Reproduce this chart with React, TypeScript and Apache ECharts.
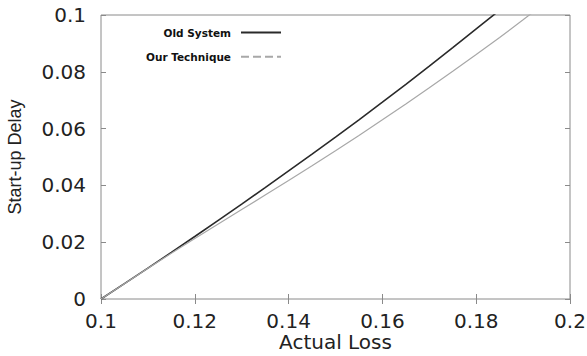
import React, { useEffect, useRef } from "react";
import * as echarts from "echarts";

const xValues = [0.1, 0.105, 0.11, 0.115, 0.12, 0.125, 0.13, 0.135, 0.14, 0.145, 0.15, 0.155, 0.16, 0.165, 0.17, 0.175, 0.18, 0.185, 0.19, 0.195];
const oldSystem = [0, 0.0054, 0.0109, 0.0164, 0.022, 0.0277, 0.0334, 0.0392, 0.0451, 0.051, 0.057, 0.0631, 0.0693, 0.0756, 0.082, 0.0885, 0.0951, 0.1017];
const ourTechnique = [0, 0.0054, 0.0108, 0.0161, 0.0213, 0.0264, 0.0315, 0.0366, 0.0417, 0.0469, 0.0522, 0.0576, 0.0631, 0.0687, 0.0744, 0.0802, 0.0861, 0.0921, 0.0983, 0.1047];
const xTicks = ["0.1", "0.12", "0.14", "0.16", "0.18", "0.2"];
const yTicks = ["0", "0.02", "0.04", "0.06", "0.08", "0.1"];
const seriesNames = ["Old System", "Our Technique"];

const frame = "#8a8a8a";
const labelFont = "DejaVu Sans";

export default function App() {
  const ref = useRef<HTMLDivElement>(null);
  useEffect(() => {
    if (!ref.current) return;
    const chart = echarts.init(ref.current, null, { renderer: "svg" });
    const tickFmt = (list: string[]) => (v: number) => {
      const s = String(Number(v.toFixed(3)));
      return list.includes(s) ? s : "";
    };
    const tickCommon = { show: true, inside: true, length: 5, lineStyle: { color: frame, width: 1 } };
    chart.setOption({
      animation: false,
      backgroundColor: "#fff",
      grid: {
        left: 101, right: 17, top: 15, bottom: 57,
        containLabel: false, outerBoundsMode: "none",
        show: true, borderColor: frame, borderWidth: 1, backgroundColor: "transparent",
      },
      legend: {
        orient: "vertical",
        right: 300,
        top: 22,
        align: "right",
        itemWidth: 40,
        itemHeight: 14,
        itemGap: 13,
        itemStyle: { opacity: 0 },
        textStyle: { fontFamily: labelFont, fontWeight: "bold", fontSize: 10.5, color: "#111", padding: [0, 5, 0, 0] },
        data: [
          { name: seriesNames[0], itemStyle: { opacity: 0 } },
          { name: seriesNames[1], itemStyle: { opacity: 0 }, lineStyle: { type: "dashed" } },
        ],
      },
      xAxis: [
        {
          type: "value",
          min: 0.1,
          max: 0.2,
          interval: 0.02,
          name: "Actual Loss",
          nameLocation: "middle",
          nameMoveOverlap: false,
          nameGap: 33,
          nameTextStyle: { fontFamily: labelFont, fontSize: 20, color: "#222" },
          axisLine: { show: false },
          axisTick: tickCommon,
          splitLine: { show: false },
          axisLabel: { fontFamily: labelFont, fontSize: 20, color: "#222", margin: 12, formatter: tickFmt(xTicks) },
        },
        {
          type: "value",
          position: "top",
          min: 0.1,
          max: 0.2,
          interval: 0.02,
          axisLine: { show: false },
          axisTick: tickCommon,
          splitLine: { show: false },
          axisLabel: { show: false },
        },
      ],
      yAxis: [
        {
          type: "value",
          min: 0,
          max: 0.1,
          interval: 0.02,
          name: "Start-up Delay",
          nameLocation: "middle",
          nameMoveOverlap: false,
          nameGap: 77,
          nameTextStyle: { fontFamily: "Liberation Sans", fontSize: 18, color: "#222" },
          axisLine: { show: false },
          axisTick: tickCommon,
          splitLine: { show: false },
          axisLabel: { fontFamily: labelFont, fontSize: 20, color: "#222", margin: 15, formatter: tickFmt(yTicks) },
        },
        {
          type: "value",
          position: "right",
          min: 0,
          max: 0.1,
          interval: 0.02,
          axisLine: { show: false },
          axisTick: tickCommon,
          splitLine: { show: false },
          axisLabel: { show: false },
        },
      ],
      series: [
        {
          name: seriesNames[0],
          type: "line",
          symbol: "none",
          clip: true,
          color: "#2a2a2a",
          lineStyle: { color: "#2a2a2a", width: 1.6 },
          data: oldSystem.map((v, i) => [xValues[i], v]),
        },
        {
          name: seriesNames[1],
          type: "line",
          symbol: "none",
          clip: true,
          color: "#a8a8a8",
          lineStyle: { color: "#a8a8a8", width: 1.2 },
          data: ourTechnique.map((v, i) => [xValues[i], v]),
        },
      ],
    });
    return () => chart.dispose();
  }, []);
  return <div ref={ref} style={{ position: "fixed", left: 0, top: 0, width: 587, height: 356 }} />;
}
